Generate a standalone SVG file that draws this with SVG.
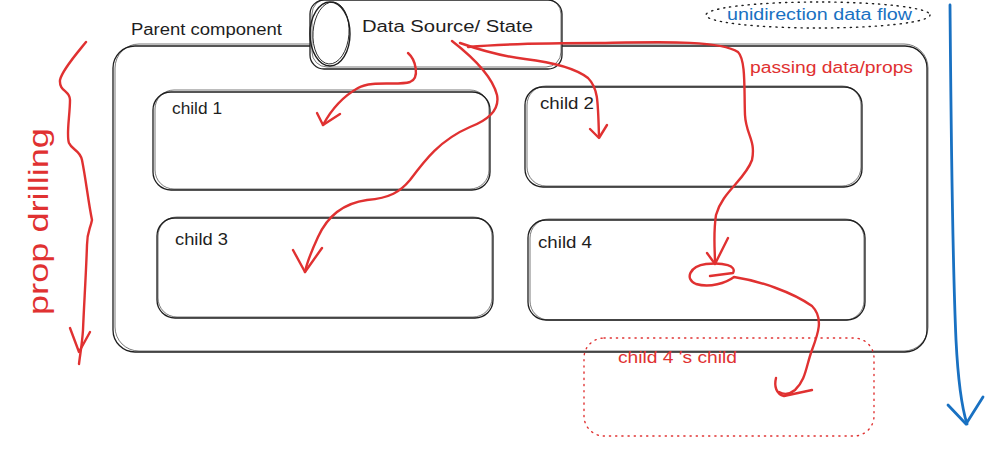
<svg xmlns="http://www.w3.org/2000/svg" width="1000" height="454" viewBox="0 0 1000 454">
<style>
.box{fill:none;stroke:#1e1e1e;stroke-width:1.3}
.box2{fill:none;stroke:#1e1e1e;stroke-width:0.8;opacity:0.75}
.t{font-family:"Liberation Sans",Arial,sans-serif;font-size:16px;fill:#1e1e1e}
.red{fill:#e03131}
.blue{fill:#1971c2}
.rl{fill:none;stroke:#e03131;stroke-width:2.4;stroke-linecap:round;stroke-linejoin:round}
.bl{fill:none;stroke:#1971c2;stroke-width:2.8;stroke-linecap:round;stroke-linejoin:round}
.dot{fill:none;stroke-width:1.4;stroke-dasharray:1.2 5;stroke-linecap:round}
</style>
<rect width="1000" height="454" fill="#ffffff"/>

<g id="parent">
<rect class="box" x="113" y="46" width="814" height="306" rx="22"/>
<rect class="box2" x="115" y="44" width="813" height="307" rx="24"/>
<text class="t" x="131" y="35" textLength="151" lengthAdjust="spacingAndGlyphs">Parent component</text>
</g>

<g id="datasource">
<rect x="310" y="0" width="252" height="69" rx="14" fill="#ffffff" stroke="#1e1e1e" stroke-width="1.3"/>
<rect class="box2" x="312" y="-1" width="249" height="68" rx="15"/>
<ellipse cx="330" cy="34" rx="20" ry="32" fill="none" stroke="#1e1e1e" stroke-width="1.4"/>
<ellipse cx="331" cy="33" rx="18" ry="31" fill="none" stroke="#1e1e1e" stroke-width="0.9" transform="rotate(4 331 33)"/>
<text class="t" x="362" y="32" textLength="171" lengthAdjust="spacingAndGlyphs">Data Source/ State</text>
</g>

<g id="child1">
<rect class="box" x="153" y="92" width="337" height="98" rx="18"/>
<rect class="box2" x="155" y="90" width="334" height="99" rx="19"/>
<text class="t" x="172" y="114" textLength="50" lengthAdjust="spacingAndGlyphs">child 1</text>
</g>

<g id="child2">
<rect class="box" x="525" y="87" width="337" height="100" rx="18"/>
<rect class="box2" x="527" y="86" width="334" height="100" rx="19"/>
<text class="t" x="540" y="109" textLength="54" lengthAdjust="spacingAndGlyphs">child 2</text>
</g>

<g id="child3">
<rect class="box" x="157" y="218" width="336" height="100" rx="18"/>
<rect class="box2" x="158" y="217" width="334" height="100" rx="19"/>
<text class="t" x="175" y="245" textLength="53" lengthAdjust="spacingAndGlyphs">child 3</text>
</g>

<g id="child4">
<rect class="box" x="528" y="220" width="337" height="100" rx="18"/>
<rect class="box2" x="530" y="219" width="334" height="101" rx="19"/>
<text class="t" x="538" y="248" textLength="54" lengthAdjust="spacingAndGlyphs">child 4</text>
</g>

<g id="child4child">
<rect class="dot" stroke="#e03131" x="584" y="338" width="290" height="98" rx="20"/>
<text class="t red" x="618" y="363" textLength="119" lengthAdjust="spacingAndGlyphs">child 4 's child</text>
</g>

<g id="flow-label">
<ellipse class="dot" stroke="#1e1e1e" cx="818" cy="15" rx="112" ry="13"/>
<text class="t blue" x="727" y="20" textLength="185" lengthAdjust="spacingAndGlyphs">unidirection data flow</text>
</g>

<g id="props-label">
<text class="t red" x="750" y="73" textLength="163" lengthAdjust="spacingAndGlyphs">passing data/props</text>
</g>

<g id="drill-label">
<text class="red" font-family="Liberation Sans, Arial, sans-serif" font-size="28" transform="translate(48 315) rotate(-90)" textLength="187" lengthAdjust="spacingAndGlyphs">prop drilling</text>
</g>

<g id="connectors">
<!-- to child 1 -->
<path class="rl" d="M408 53 C416 60 420 78 410 82 C398 86 372 80 358 88 C342 97 330 112 323 125"/>
<path class="rl" d="M317 113 L323 125 L340 114" stroke-width="3.2"/>
<!-- to child 3 -->
<path class="rl" d="M452 41 C470 55 492 75 497 95 C500 110 488 120 470 127 C440 140 425 160 410 180 C400 192 390 198 367 200 C345 203 328 215 318 237 C312 250 307 262 305 272"/>
<path class="rl" d="M293 250 L305 272 L322 248"/>
<!-- to child 2 -->
<path class="rl" d="M460 43 C480 50 500 56 525 59 C550 62 575 68 588 78 C598 88 598 100 599 137"/>
<path class="rl" d="M590 129 L599 138 L607 125" stroke-width="3"/>
<!-- to child 4 -->
<path class="rl" d="M468 47 C500 44 540 43 600 43 C660 42 720 40 738 52 C746 60 744 90 745 115 C746 135 756 140 752 160 C745 180 722 192 716 215 C713 235 715 250 715 263"/>
<path class="rl" d="M707 253 L715 264 L728 238"/>
<!-- loop and on to child 4's child -->
<path class="rl" d="M710 276 L733 273 C737 266 724 262 706 264 C690 266 684 279 696 284 C710 288 726 283 734 277 C760 281 792 292 812 306 C824 318 818 334 812 350 C806 366 806 380 795 390 C790 394 784 395 779 392"/>
<path class="rl" d="M776 378 C774 386 776 394 784 396 L812 390"/>
<!-- prop drilling -->
<path class="rl" d="M86 42 C78 52 62 70 60 80 C59 92 70 90 70 100 C70 115 66 135 69 143 C72 150 80 150 82 160 C86 180 88 200 92 220 C90 230 87 232 87 245 C86 275 84 305 83 330 C82 345 80 355 79 364"/>
<path class="rl" d="M70 328 L79 352 L90 332"/>
<!-- unidirectional flow -->
<path class="bl" d="M950 5 C951 120 952 250 956 340 C958 380 961 405 967 424"/>
<path class="bl" d="M948 405 L966 424 L983 397" stroke-width="3"/>
</g>
</svg>
